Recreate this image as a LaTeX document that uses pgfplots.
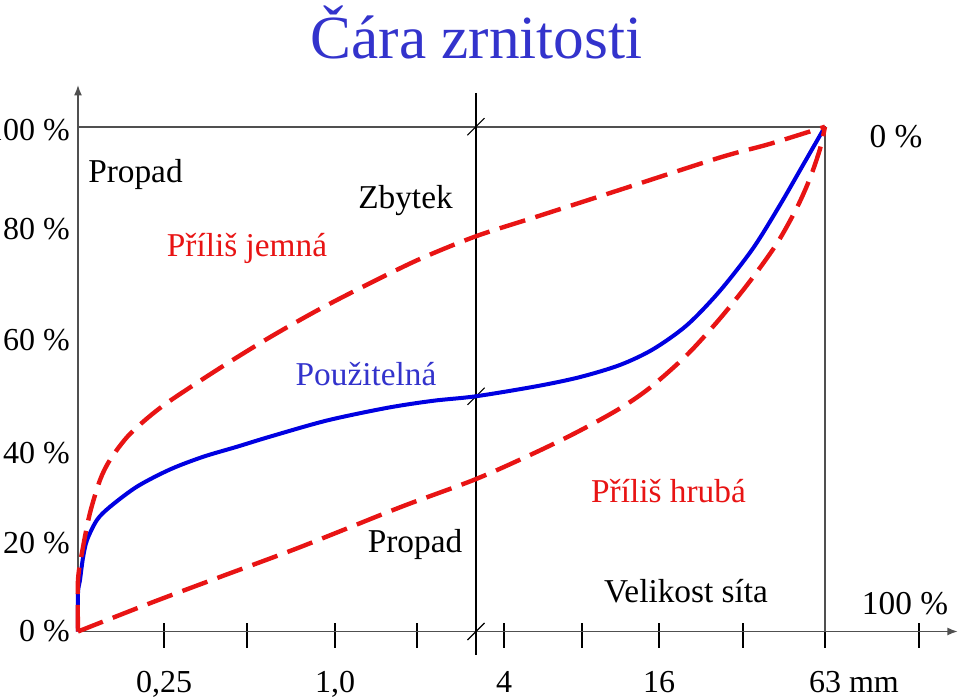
\documentclass[border=0pt]{standalone}
\usepackage{pgfplots}
\pgfplotsset{compat=1.18}
\usepackage{fontspec}
\setmainfont{Liberation Serif}
\usetikzlibrary{arrows.meta}
\definecolor{titleblue}{RGB}{51,51,204}
\definecolor{curveblue}{RGB}{0,0,225}
\definecolor{curvered}{RGB}{232,20,20}
\definecolor{axisgray}{RGB}{80,80,80}
\begin{document}
\begin{tikzpicture}
\useasboundingbox (0,0) rectangle (720pt,524.25pt);
\begin{axis}[
  at={(58.5pt,50.625pt)}, anchor=south west,
  x=0.75pt, y=3.786pt,
  xmin=78, xmax=958, ymin=0, ymax=108.3,
  clip=false,
  axis lines=left,
  axis line style={axisgray, line width=1.3pt},
  x axis line style={-{Latex[length=8pt,width=6pt]}},
  y axis line style={-{Latex[length=8pt,width=6pt]}},
  xtick={164,247,335,417,504,582,659,743,825,919},
  xticklabels={{0,25},{},{1,0},{},{4},{},{16},{},{63\rlap{ mm}},{}},
  tick align=center,
  major tick length=18.75pt,
  xtick style={black, line width=0.8pt, yshift=-3pt},
  xticklabel style={anchor=base, yshift=-36.4pt, font=\fontsize{24}{29}\selectfont},
  ytick={0,17.6,35.4,57.7,79.7,99.4},
  yticklabels={{0 \%},{20 \%},{40 \%},{60 \%},{80 \%},{100 \%}},
  ytick style={draw=none},
  yticklabel style={anchor=east, inner sep=0pt, xshift=3.5pt, font=\fontsize{24}{29}\selectfont},
]
% frame lines
\draw[axisgray, line width=1.3pt] (axis cs:78,100) -- (axis cs:825,100) -- (axis cs:825,0);
\draw[black, line width=0.8pt] (axis cs:476,106.7) -- (axis cs:476,-4.66);
\draw[black, line width=0.8pt] ([xshift=-6.4pt,yshift=-6.4pt]axis cs:476,0) -- ([xshift=6.4pt,yshift=6.4pt]axis cs:476,0);
\draw[black, line width=0.8pt] ([xshift=-6.4pt,yshift=-6.4pt]axis cs:476,46.6) -- ([xshift=6.4pt,yshift=6.4pt]axis cs:476,46.6);
\draw[black, line width=0.8pt] ([xshift=-6.4pt,yshift=-6.4pt]axis cs:476,100) -- ([xshift=6.4pt,yshift=6.4pt]axis cs:476,100);
% usable grading curve
\addplot[curveblue, line width=3pt, smooth, tension=0.5] coordinates {
(78,0) (78,7.6) (80,10.2) (83,14.6) (87,18.1) (97,22.1) (110,24.7) (137,28.7) (170,32.1)
(203,34.6) (237,36.6) (270,38.6) (327,41.8) (387,44.3) (433,45.7) (476,46.6)
(537,48.6) (580,50.4) (620,52.8) (653,55.9) (687,60.7) (720,67.5) (753,75.9) (780,84.5)
(803,92.4) (825,100)
};
% too fine
\addplot[curvered, line width=3.3pt, dash pattern=on 20pt off 8pt, smooth, tension=0.5] coordinates {
(78,0) (78,10.2) (83,16.7) (90,23.5) (100,30.0) (110,34.0) (127,38.5) (147,42.2)
(170,45.7) (220,52.2) (270,58.3) (320,63.9) (370,69.0) (420,73.8) (476,78.3)
(537,82.2) (620,87.5) (720,93.9) (770,96.6) (825,100)
};
% too coarse
\addplot[curvered, line width=3.3pt, dash pattern=on 20pt off 8pt, smooth, tension=0.5] coordinates {
(78,0) (150,5.6) (220,10.8) (300,16.7) (400,24.6) (476,30.2) (537,35.6) (580,39.8)
(620,44.2) (650,48.3) (687,54.8) (720,62.0) (750,69.4) (777,76.9) (797,84.0)
(810,89.8) (820,95.6) (825,100)
};
% labels
\node[anchor=base, font=\fontsize{25}{30}\selectfont] at (axis cs:135.5,89.0) {Propad};
\node[anchor=base, font=\fontsize{25}{30}\selectfont] at (axis cs:405.5,83.7) {Zbytek};
\node[anchor=base, font=\fontsize{25}{30}\selectfont, text=curvered] at (axis cs:247,74.2) {Příliš jemná};
\node[anchor=base, font=\fontsize{25}{30}\selectfont, text=titleblue] at (axis cs:366,48.8) {Použitelná};
\node[anchor=base, font=\fontsize{25}{30}\selectfont, text=curvered] at (axis cs:668.5,25.5) {Příliš hrubá};
\node[anchor=base, font=\fontsize{25}{30}\selectfont] at (axis cs:415,15.6) {Propad};
\node[anchor=base, font=\fontsize{25}{30}\selectfont] at (axis cs:686,5.8) {Velikost síta};
\node[anchor=base, font=\fontsize{25}{30}\selectfont] at (axis cs:905,3.3) {100 \%};
\node[anchor=base, font=\fontsize{25}{30}\selectfont] at (axis cs:896,95.8) {0 \%};
\node[anchor=base, font=\fontsize{46}{55}\selectfont, text=titleblue] at (axis cs:476.5,113.6) {Čára zrnitosti};
\end{axis}
\end{tikzpicture}
\end{document}
